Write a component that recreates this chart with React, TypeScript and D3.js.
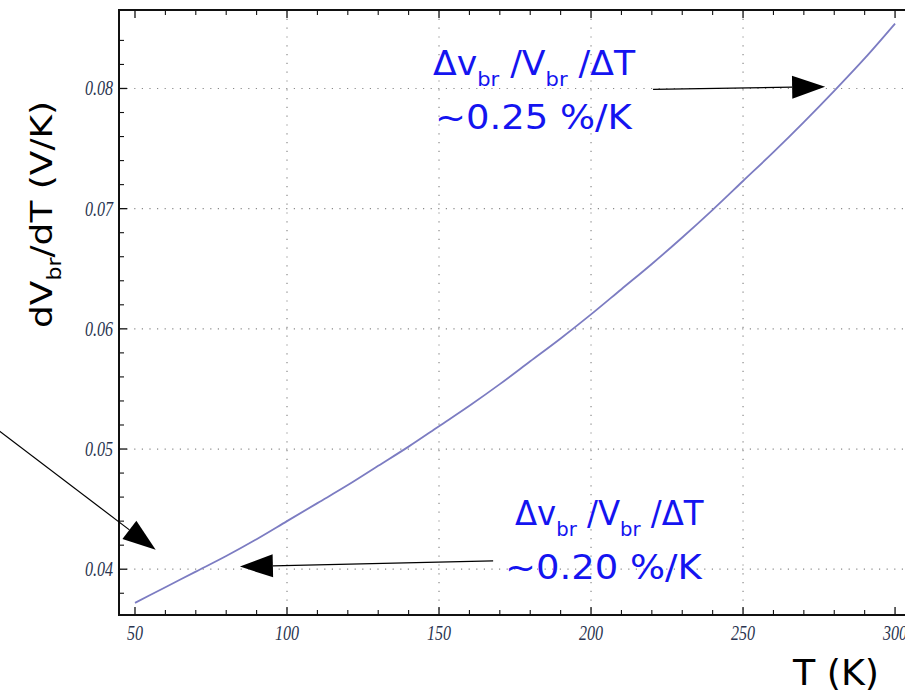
import React from "react";
import * as d3 from "d3";

// ---- data ----
const T_VALUES = [50, 60, 70, 80, 90, 100, 110, 120, 130, 140, 150, 160, 170, 180, 190, 200, 210, 220, 230, 240, 250, 260, 270, 280, 290, 300];
const DVDT_VALUES = [0.0372, 0.0385, 0.0398, 0.0411, 0.0425, 0.0440, 0.0455, 0.0470, 0.0486, 0.0502, 0.0519, 0.0536, 0.0554, 0.0573, 0.0592, 0.0612, 0.0633, 0.0654, 0.0676, 0.0699, 0.0723, 0.0747, 0.0772, 0.0798, 0.0825, 0.0854];

const X_MAJOR = [50, 100, 150, 200, 250, 300];
const X_MAJOR_LABELS = ["50", "100", "150", "200", "250", "300"];
const X_GRID = [100, 150, 200, 250];
const X_MINOR = [60, 70, 80, 90, 110, 120, 130, 140, 160, 170, 180, 190, 210, 220, 230, 240, 260, 270, 280, 290];
const Y_MAJOR = [0.04, 0.05, 0.06, 0.07, 0.08];
const Y_MAJOR_LABELS = ["0.04", "0.05", "0.06", "0.07", "0.08"];
const Y_MINOR = [0.038, 0.042, 0.044, 0.046, 0.048, 0.052, 0.054, 0.056, 0.058, 0.062, 0.064, 0.066, 0.068, 0.072, 0.074, 0.076, 0.078, 0.082, 0.084];

const X_DOMAIN = [44.74, 303.6];
const Y_DOMAIN = [0.03619, 0.08653];

// annotation arrows in data coordinates: [startT, startV, tipT, tipV]
const ARROW_TOP = [220.4, 0.07993, 277.0, 0.08015];
const ARROW_BOTTOM = [167.8, 0.04069, 84.5, 0.04022];
const ARROW_DIAG = [2.3, 0.0521, 56.8, 0.04161];

const W = 905;
const H = 693;
const PL = 119, PT = 10, PR = 906, PB = 615;

const BLUE = "#1414f0";
const TICK_COLOR = "#2a3450";

function Arrow({ a, x, y }: { a: number[]; x: any; y: any }) {
  const x0 = x(a[0]), y0 = y(a[1]), x1 = x(a[2]), y1 = y(a[3]);
  const dx = x1 - x0, dy = y1 - y0;
  const len = Math.hypot(dx, dy);
  const ux = dx / len, uy = dy / len;
  const hl = 33, hw = 11.5;
  const bx = x1 - ux * hl, by = y1 - uy * hl;
  const pts = [
    [x1, y1],
    [bx - uy * hw, by + ux * hw],
    [bx + uy * hw, by - ux * hw],
  ];
  return (
    <g>
      <line x1={x0} y1={y0} x2={bx} y2={by} stroke="#000" strokeWidth={1.2} />
      <polygon points={pts.map((p) => p.join(",")).join(" ")} fill="#000" />
    </g>
  );
}

function RatioLabel({ x, y, sx }: { x: number; y: number; sx: number }) {
  return (
    <g transform={`translate(${x},${y}) scale(${sx},1)`}>
      <text fill={BLUE} fontFamily="DejaVu Sans" fontSize={33}>
        Δv
        <tspan fontSize={20} dy={11}>br</tspan>
        <tspan dy={-11}> /V</tspan>
        <tspan fontSize={20} dy={11}>br</tspan>
        <tspan dy={-11}> /ΔT</tspan>
      </text>
    </g>
  );
}

function ValueLabel({ x, y, sx, text }: { x: number; y: number; sx: number; text: string }) {
  return (
    <g transform={`translate(${x},${y}) scale(${sx},1)`}>
      <text fill={BLUE} fontFamily="DejaVu Sans" fontSize={33}>{text}</text>
    </g>
  );
}

export default function App() {
  const x = d3.scaleLinear().domain(X_DOMAIN).range([PL, PR]);
  const y = d3.scaleLinear().domain(Y_DOMAIN).range([PB, PT]);

  const data = T_VALUES.map((t, i) => [t, DVDT_VALUES[i]] as [number, number]);
  const line = d3
    .line<[number, number]>()
    .x((d) => x(d[0]))
    .y((d) => y(d[1]))
    .curve(d3.curveMonotoneX);

  const MAJ = 8, MIN = 5;

  return (
    <svg width={W} height={H} style={{ position: "absolute", left: 0, top: 0, background: "#fff" }}>
      <rect x={0} y={0} width={W} height={H} fill="#fff" />
      {/* grid */}
      {X_GRID.map((t) => (
        <line key={"gx" + t} x1={x(t)} x2={x(t)} y1={PT} y2={PB} stroke="#8a8a8a" strokeWidth={1.2} strokeDasharray="1.2,7.6" />
      ))}
      {Y_MAJOR.map((v) => (
        <line key={"gy" + v} x1={PL} x2={PR} y1={y(v)} y2={y(v)} stroke="#8a8a8a" strokeWidth={1.2} strokeDasharray="1.2,6.4" />
      ))}

      {/* curve */}
      <path d={line(data) || ""} fill="none" stroke="#7c7cc2" strokeWidth={1.8} />

      {/* frame */}
      <rect x={PL} y={PT} width={PR - PL} height={PB - PT} fill="none" stroke="#111" strokeWidth={2} />

      {/* ticks */}
      {X_MAJOR.map((t) => (
        <g key={"xm" + t}>
          <line x1={x(t)} x2={x(t)} y1={PB} y2={PB - MAJ} stroke="#111" strokeWidth={1.3} />
          <line x1={x(t)} x2={x(t)} y1={PT} y2={PT + MAJ} stroke="#111" strokeWidth={1.3} />
        </g>
      ))}
      {X_MINOR.map((t) => (
        <g key={"xn" + t}>
          <line x1={x(t)} x2={x(t)} y1={PB} y2={PB - MIN} stroke="#111" strokeWidth={1.1} />
          <line x1={x(t)} x2={x(t)} y1={PT} y2={PT + MIN} stroke="#111" strokeWidth={1.1} />
        </g>
      ))}
      {Y_MAJOR.map((v) => (
        <line key={"ym" + v} x1={PL} x2={PL + MAJ} y1={y(v)} y2={y(v)} stroke="#111" strokeWidth={1.3} />
      ))}
      {Y_MINOR.map((v) => (
        <line key={"yn" + v} x1={PL} x2={PL + MIN} y1={y(v)} y2={y(v)} stroke="#111" strokeWidth={1.1} />
      ))}

      {/* tick labels */}
      {X_MAJOR.map((t, i) => (
        <g key={"xl" + t} transform={`translate(${x(t)},640) scale(0.73,1)`}>
          <text textAnchor="middle" fontFamily="Liberation Serif" fontStyle="italic" fontSize={22} fill={TICK_COLOR}>
            {X_MAJOR_LABELS[i]}
          </text>
        </g>
      ))}
      {Y_MAJOR.map((v, i) => (
        <g key={"yl" + v} transform={`translate(113,${y(v) + 7})`}>
          <g transform="scale(0.73,1)">
            <text textAnchor="end" fontFamily="Liberation Serif" fontStyle="italic" fontSize={22} fill={TICK_COLOR}>
              {Y_MAJOR_LABELS[i]}
            </text>
          </g>
        </g>
      ))}

      {/* axis titles */}
      <g transform="translate(52,328) rotate(-90) scale(1.16,1)">
        <text fontFamily="DejaVu Sans" fontSize={31} fill="#000">
          dV
          <tspan fontSize={19} dy={9}>br</tspan>
          <tspan dy={-9}>/dT (V/K)</tspan>
        </text>
      </g>
      <g transform="translate(793,685) scale(1.04,1)">
        <text fontFamily="DejaVu Sans" fontSize={35} fill="#000">T (K)</text>
      </g>

      {/* arrows */}
      <Arrow a={ARROW_TOP} x={x} y={y} />
      <Arrow a={ARROW_BOTTOM} x={x} y={y} />
      <Arrow a={ARROW_DIAG} x={x} y={y} />

      {/* annotations */}
      <RatioLabel x={433} y={75} sx={1.05} />
      <ValueLabel x={435} y={129} sx={1.12} text="~0.25 %/K" />
      <RatioLabel x={515} y={525} sx={0.98} />
      <ValueLabel x={505} y={579} sx={1.12} text="~0.20 %/K" />
    </svg>
  );
}
